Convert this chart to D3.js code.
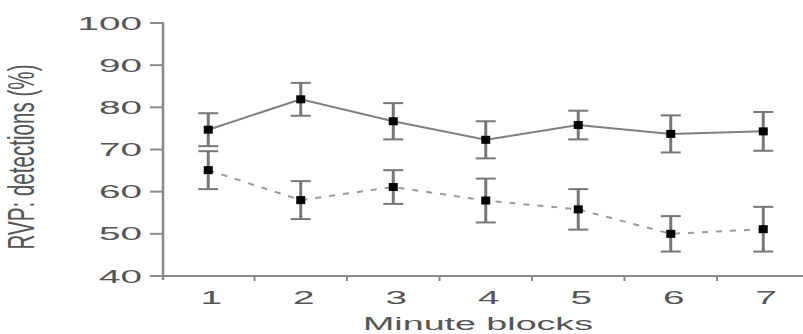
<!DOCTYPE html>
<html>
<head>
<meta charset="utf-8">
<script src="https://cdn.jsdelivr.net/npm/d3@7"></script>
<style>
  html, body { margin: 0; padding: 0; background: #fff; }
  svg { display: block; }
  text { font-family: "Liberation Sans", Arial, sans-serif; fill: #555; }
</style>
</head>
<body>
<svg id="chart" width="803" height="334"></svg>
<script>
// Minute blocks on the x axis
const blocks = [1, 2, 3, 4, 5, 6, 7];
// Upper series (solid line): mean detections and error half-widths
const meanSolid = [74.7, 81.9, 76.7, 72.3, 75.8, 73.7, 74.3];
const errSolid  = [3.9, 3.9, 4.3, 4.4, 3.4, 4.4, 4.6];
// Lower series (dashed line)
const meanDashed = [65.1, 58.0, 61.1, 57.9, 55.8, 50.0, 51.1];
const errDashed  = [4.5, 4.5, 4.0, 5.2, 4.8, 4.2, 5.3];
// Y axis ticks
const yTicks = [40, 50, 60, 70, 80, 90, 100];

const svg = d3.select("#chart");
const plotLeft = 162, plotRight = 809.5, plotTop = 23, plotBottom = 276;
const stretch = 2.15; // wide lettering

const x = d3.scaleBand().domain(blocks).range([plotLeft, plotRight]).paddingInner(0).paddingOuter(0);
const y = d3.scaleLinear().domain([40, 100]).range([plotBottom, plotTop]);
const cx = d => x(d) + x.bandwidth() / 2;

const axisColor = "#8a8a8a";

// y axis line and ticks
svg.append("line")
  .attr("x1", plotLeft + 1).attr("x2", plotLeft + 1)
  .attr("y1", plotTop - 1).attr("y2", plotBottom + 4)
  .attr("stroke", axisColor).attr("stroke-width", 2.5);
svg.selectAll(".ytick").data(yTicks).join("line")
  .attr("x1", plotLeft - 12).attr("x2", plotLeft)
  .attr("y1", d => y(d)).attr("y2", d => y(d))
  .attr("stroke", axisColor).attr("stroke-width", 2);
svg.selectAll(".ylab").data(yTicks).join("text")
  .attr("transform", d => `translate(${plotLeft - 20},${y(d) + 6.5}) scale(${stretch},1)`)
  .attr("text-anchor", "end")
  .attr("font-size", 18)
  .text(d => d);

// x axis line and ticks at block boundaries
svg.append("line")
  .attr("x1", plotLeft).attr("x2", 803)
  .attr("y1", plotBottom).attr("y2", plotBottom)
  .attr("stroke", axisColor).attr("stroke-width", 2);
svg.selectAll(".xtick").data(blocks.slice(1)).join("line")
  .attr("x1", d => x(d)).attr("x2", d => x(d))
  .attr("y1", plotBottom).attr("y2", plotBottom + 5)
  .attr("stroke", axisColor).attr("stroke-width", 2);
svg.selectAll(".xlab").data(blocks).join("text")
  .attr("transform", d => `translate(${cx(d) + 3},${plotBottom + 28}) scale(${stretch},1)`)
  .attr("text-anchor", "middle")
  .attr("font-size", 18)
  .text(d => d);

// axis titles
svg.append("text")
  .attr("transform", `translate(478,330) scale(${stretch},1)`)
  .attr("text-anchor", "middle")
  .attr("font-size", 17.5)
  .attr("fill", "#444")
  .text("Minute blocks");
svg.append("text")
  .attr("transform", `translate(34,157) scale(1.9,1) rotate(-90)`)
  .attr("text-anchor", "middle")
  .attr("font-size", 19)
  .attr("textLength", 185)
  .attr("lengthAdjust", "spacingAndGlyphs")
  .text("RVP: detections (%)");

// draw one series: connecting line, error bars, square markers
function drawSeries(means, errs, dashed) {
  const pts = blocks.map((b, i) => ({ b, m: means[i], e: errs[i] }));
  const line = d3.line().x(d => cx(d.b)).y(d => y(d.m));
  svg.append("path")
    .datum(pts)
    .attr("d", line)
    .attr("fill", "none")
    .attr("stroke", dashed ? "#9a9a9a" : "#808080")
    .attr("stroke-width", 2)
    .attr("stroke-dasharray", dashed ? "6,8" : null);

  const g = svg.append("g");
  const bars = g.selectAll("g").data(pts).join("g");
  bars.append("line")
    .attr("x1", d => cx(d.b)).attr("x2", d => cx(d.b))
    .attr("y1", d => y(d.m + d.e)).attr("y2", d => y(d.m - d.e))
    .attr("stroke", "#777").attr("stroke-width", 3);
  [1, -1].forEach(s => {
    bars.append("line")
      .attr("x1", d => cx(d.b) - 10).attr("x2", d => cx(d.b) + 10)
      .attr("y1", d => y(d.m + s * d.e)).attr("y2", d => y(d.m + s * d.e))
      .attr("stroke", "#777").attr("stroke-width", 2);
  });
  bars.append("rect")
    .attr("x", d => cx(d.b) - 4.5).attr("y", d => y(d.m) - 4)
    .attr("width", 9).attr("height", 8)
    .attr("fill", "#000");
}

drawSeries(meanDashed, errDashed, true);
drawSeries(meanSolid, errSolid, false);
</script>
</body>
</html>
